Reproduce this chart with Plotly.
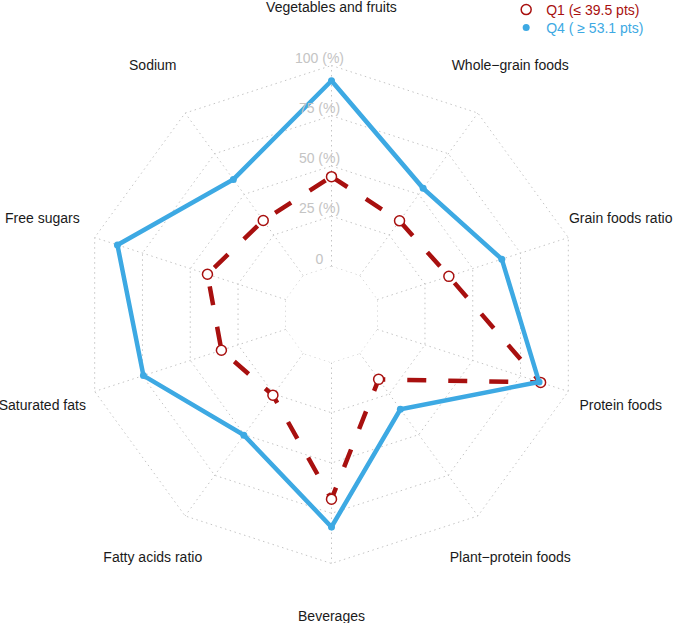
import plotly.graph_objects as go

categories = ["Vegetables and fruits", "Whole\u2212grain foods", "Grain foods ratio",
              "Protein foods", "Plant\u2212protein foods", "Beverages",
              "Fatty acids ratio", "Saturated fats", "Free sugars", "Sodium"]
q1_values = [44.7, 33.7, 37.5, 85.5, 16.0, 68.0, 25.7, 33.7, 41.0, 33.9]
q4_values = [92.4, 53.7, 65.2, 84.7, 34.4, 81.8, 50.3, 74.5, 88.1, 59.2]
radial_ticks = [0, 25, 50, 75, 100]
radial_labels = ["0", "25 (%)", "50 (%)", "75 (%)", "100 (%)"]
q1_name = "Q1 (\u2264 39.5 pts)"
q4_name = "Q4 ( \u2265 53.1 pts)"

RED = "#A8100F"
BLUE = "#3DA9E3"
GRID = "#C4C4C4"
TICKCOL = "#C4C4C4"
FONT = "Liberation Sans, Arial, sans-serif"
LABEL_R = 127.4      # radial position (data units) of the category labels
RMAX = 129.0         # radial range max (room for the labels)
TICK_LIFT = 3.0      # tick labels sit a little outside their ring

def closed(v):
    return list(v) + [v[0]]

theta_closed = closed(categories)
fig = go.Figure()

# ---- grid (polygon rings + spokes) ----
for t in radial_ticks:
    fig.add_trace(go.Scatterpolar(r=[t] * len(theta_closed), theta=theta_closed, mode="lines",
                                  line=dict(color=GRID, width=1, dash="1.5px,3.5px"),
                                  showlegend=False, hoverinfo="skip", cliponaxis=False))
spoke_r, spoke_t = [], []
for c in categories:
    spoke_r += [radial_ticks[0], radial_ticks[-1], None]
    spoke_t += [c, c, None]
fig.add_trace(go.Scatterpolar(r=spoke_r, theta=spoke_t, mode="lines", connectgaps=False,
                              line=dict(color=GRID, width=1, dash="1.5px,3.5px"),
                              showlegend=False, hoverinfo="skip", cliponaxis=False))

# ---- Q1 ----
fig.add_trace(go.Scatterpolar(r=closed(q1_values), theta=theta_closed, mode="lines",
                              line=dict(color=RED, width=4.5, dash="19px,22px"),
                              showlegend=False, hoverinfo="skip", cliponaxis=False))
fig.add_trace(go.Scatterpolar(r=q1_values, theta=categories, mode="markers",
                              marker=dict(symbol="circle", size=10, color="white",
                                          line=dict(color=RED, width=1.5)),
                              name="<span style='color:%s'>%s</span>" % (RED, q1_name),
                              legend="legend", cliponaxis=False))
# ---- Q4 ----
fig.add_trace(go.Scatterpolar(r=closed(q4_values), theta=theta_closed, mode="lines",
                              line=dict(color=BLUE, width=4.5),
                              showlegend=False, hoverinfo="skip", cliponaxis=False))
fig.add_trace(go.Scatterpolar(r=q4_values, theta=categories, mode="markers",
                              marker=dict(symbol="circle", size=7, color=BLUE),
                              name="<span style='color:%s'>%s</span>" % (BLUE, q4_name),
                              legend="legend2", cliponaxis=False))

# ---- radial tick labels (overlay polar, nudged left) ----
fig.add_trace(go.Scatterpolar(r=[t + TICK_LIFT for t in radial_ticks],
                              theta=[categories[0]] * len(radial_ticks),
                              mode="text", text=radial_labels,
                              textposition="middle center",
                              textfont=dict(family=FONT, size=14, color=TICKCOL),
                              showlegend=False, hoverinfo="skip", subplot="polar3",
                              cliponaxis=False))

# ---- category labels (overlay polar, nudged up) ----
fig.add_trace(go.Scatterpolar(r=[LABEL_R] * len(categories), theta=categories,
                              mode="text", text=categories, textposition="middle center",
                              textfont=dict(family=FONT, size=14, color="#1a1a1a"),
                              showlegend=False, hoverinfo="skip", subplot="polar2",
                              cliponaxis=False))

W, H = 674, 623
cx, cy = 331.5, 314.5
HOLE_PX, PX_PER_UNIT = 48.0, 2.01
R = HOLE_PX + PX_PER_UNIT * RMAX

def dom(dx=0.0, dy=0.0):
    x0, x1 = cx + dx - R, cx + dx + R
    y0, y1 = cy + dy - R, cy + dy + R
    return dict(x=[x0 / W, x1 / W], y=[1 - y1 / H, 1 - y0 / H])

def polar_cfg(domain, bg):
    return dict(
        domain=domain, bgcolor=bg, hole=HOLE_PX / R, gridshape="linear",
        radialaxis=dict(range=[-0.01, RMAX], showticklabels=False, ticks="", showline=False,
                        showgrid=False),
        angularaxis=dict(type="category", categoryarray=categories, direction="clockwise",
                         rotation=90, showticklabels=False, ticks="", showline=False,
                         showgrid=False),
    )

legend_common = dict(xanchor="left", yanchor="top", font=dict(family=FONT, size=14),
                     bgcolor="rgba(0,0,0,0)")
fig.update_layout(
    width=W, height=H,
    margin=dict(l=0, r=0, t=0, b=0, autoexpand=False),
    paper_bgcolor="white", plot_bgcolor="white",
    font=dict(family=FONT, size=14),
    polar=polar_cfg(dom(), "white"),
    polar2=polar_cfg(dom(0, -1.5), "rgba(0,0,0,0)"),
    polar3=polar_cfg(dom(-12, -6.3 + TICK_LIFT * PX_PER_UNIT), "rgba(0,0,0,0)"),
    legend=dict(x=0.751, y=1 + 6 / H, **legend_common),
    legend2=dict(x=0.751, y=1 - 12 / H, **legend_common),
)

fig.write_html("out.html", config={"displayModeBar": False},
               post_script="document.body.style.margin='0';")
